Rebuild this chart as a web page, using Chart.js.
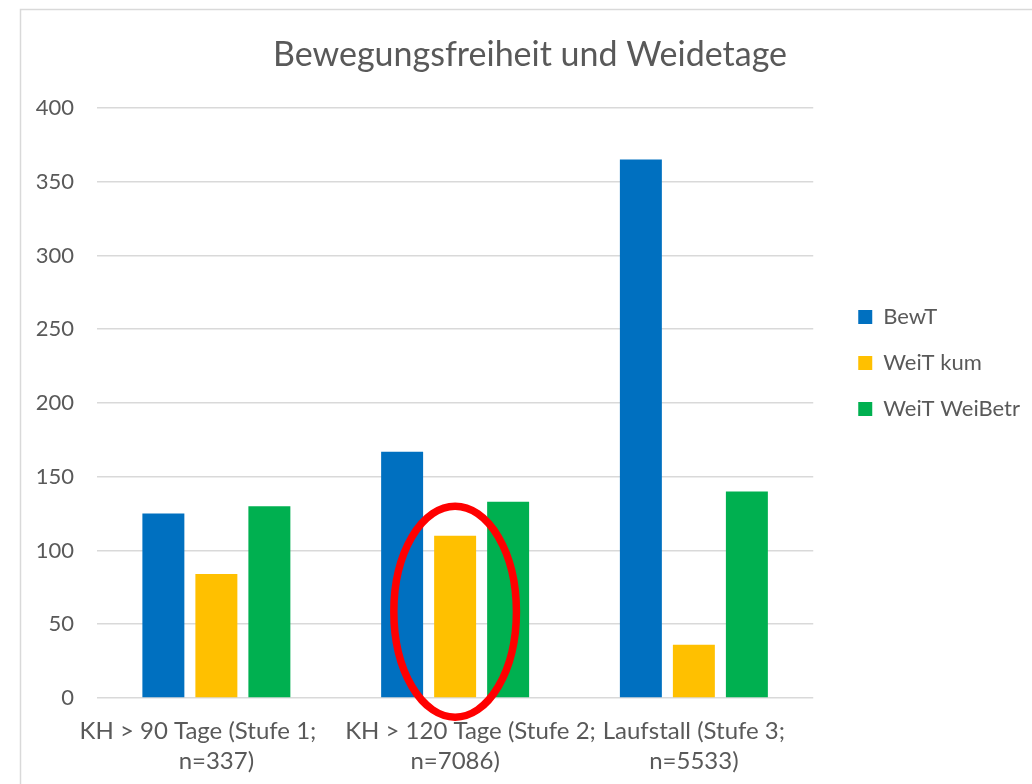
<!DOCTYPE html>
<html>
<head>
<meta charset="utf-8">
<script src="https://cdn.jsdelivr.net/npm/chart.js@4.4.1/dist/chart.umd.min.js"></script>
<style>
  html, body { margin: 0; padding: 0; background: #ffffff; overflow: hidden; }
  #c { display: block; }
</style>
</head>
<body>
<canvas id="c" width="1032" height="784"></canvas>
<script>
const categories = [
  ["KH > 90 Tage (Stufe 1;      ", "n=337)"],
  ["     KH > 120 Tage (Stufe 2;", "n=7086)"],
  ["Laufstall (Stufe 3;", "n=5533)"]
];
const seriesNames = ["BewT", "WeiT kum", "WeiT WeiBetr"];
const bewT = [125, 167, 365];
const weitKum = [84, 110, 36];
const weitWeiBetr = [130, 133, 140];
const seriesColors = ["#0070C0", "#FFC000", "#00B050"];
const chartTitle = "Bewegungsfreiheit und Weidetage";

const FONT = "Lato, 'Open Sans', sans-serif";
const TEXT = "#595959";
const GRID = "#D9D9D9";

const frame = {
  id: "frame",
  beforeDraw(chart) {
    const ctx = chart.ctx;
    ctx.save();
    ctx.fillStyle = "#ffffff";
    ctx.fillRect(0, 0, chart.width, chart.height);
    ctx.strokeStyle = "#D9D9D9";
    ctx.lineWidth = 1.5;
    ctx.beginPath();
    ctx.moveTo(20.5, chart.height + 5);
    ctx.lineTo(20.5, 9.5);
    ctx.lineTo(chart.width + 5, 9.5);
    ctx.stroke();
    ctx.restore();
  }
};

// leave a gap between the plot area and the legend, and centre the title on the chart frame
const layoutTweaks = {
  id: "layoutTweaks",
  afterLayout(chart) {
    const l = chart.legend;
    if (l) { l.left += 21; l.right += 21; }
    const t = chart.titleBlock;
    if (t) { t.left += 10.5; t.right += 10.5; }
  }
};

const ellipse = {
  id: "ellipse",
  afterDraw(chart) {
    const meta = chart.getDatasetMeta(1);
    const bar = meta.data[1];
    const y = chart.scales.y;
    const top = y.getPixelForValue(130);
    const bottom = y.getPixelForValue(-13);
    const cx = bar.x;
    const cy = (top + bottom) / 2;
    const ry = (bottom - top) / 2;
    const rx = bar.width * 1.46;
    const ctx = chart.ctx;
    ctx.save();
    ctx.strokeStyle = "#FF0000";
    ctx.lineWidth = 7.5;
    ctx.beginPath();
    ctx.ellipse(cx, cy, rx, ry, 0, 0, Math.PI * 2);
    ctx.stroke();
    ctx.restore();
  }
};

const values = [bewT, weitKum, weitWeiBetr];

new Chart(document.getElementById("c"), {
  type: "bar",
  data: {
    labels: categories,
    datasets: seriesNames.map((name, i) => ({
      label: name,
      data: values[i],
      backgroundColor: seriesColors[i],
      borderWidth: 0,
      categoryPercentage: 0.666,
      barPercentage: 0.792
    }))
  },
  options: {
    responsive: false,
    devicePixelRatio: 1,
    animation: false,
    layout: { padding: { left: 30, right: 23, top: 0, bottom: -11 } },
    plugins: {
      title: {
        display: true,
        text: chartTitle,
        color: TEXT,
        font: { family: FONT, size: 34, weight: "normal", lineHeight: 1.2 },
        padding: { top: 34.6, bottom: 32.6 }
      },
      legend: {
        position: "right",
        align: "start",
        title: {
          display: true,
          text: " ",
          font: { size: 12, lineHeight: 1.2 },
          padding: { top: 133.8, bottom: 133.8 }
        },
        labels: {
          boxWidth: 14,
          boxHeight: 14,
          padding: 24,
          color: TEXT,
          font: { family: FONT, size: 22 }
        }
      },
      tooltip: { enabled: false }
    },
    scales: {
      x: {
        grid: { display: false, drawTicks: false },
        border: { display: false },
        ticks: {
          color: TEXT,
          font: { family: FONT, size: 24, lineHeight: 1.23 },
          padding: 19,
          maxRotation: 0,
          autoSkip: false
        }
      },
      y: {
        min: 0,
        max: 400,
        position: "left",
        afterFit(s) { s.width = 67; },
        border: { display: false },
        grid: { color: GRID, lineWidth: 1.5, drawTicks: false },
        ticks: {
          stepSize: 50,
          color: TEXT,
          padding: 23,
          font: { family: FONT, size: 22 }
        }
      }
    }
  },
  plugins: [frame, layoutTweaks, ellipse]
});
</script>
</body>
</html>
